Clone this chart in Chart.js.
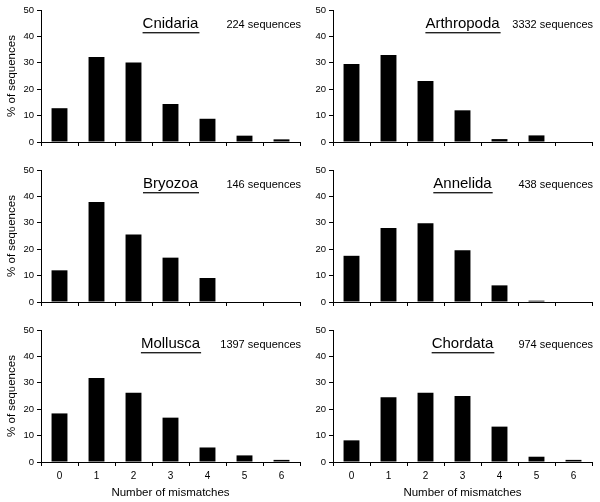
<!DOCTYPE html>
<html>
<head>
<meta charset="utf-8">
<script src="https://cdn.jsdelivr.net/npm/chart.js@4"></script>
<style>
  body { margin: 0; background: #fff; }
  canvas { position: absolute; }
</style>
</head>
<body>
<canvas id="p0" width="302" height="160" style="left:0;top:0"></canvas>
<canvas id="p1" width="302" height="160" style="left:292px;top:0"></canvas>
<canvas id="p2" width="302" height="160" style="left:0;top:160px"></canvas>
<canvas id="p3" width="302" height="160" style="left:292px;top:160px"></canvas>
<canvas id="p4" width="302" height="182" style="left:0;top:320px"></canvas>
<canvas id="p5" width="302" height="182" style="left:292px;top:320px"></canvas>
<script>
const mismatches = ["0", "1", "2", "3", "4", "5", "6"];
const taxa = ["Cnidaria", "Arthropoda", "Bryozoa", "Annelida", "Mollusca", "Chordata"];
const sequenceCounts = [224, 3332, 146, 438, 1397, 974];

const cnidaria   = [12.8, 32.2, 30.1, 14.4, 8.8, 2.4, 1.0];
const arthropoda = [29.5, 33.0, 23.1, 12.0, 1.1, 2.5, 0];
const bryozoa    = [12.0, 37.9, 25.6, 16.8, 9.1, 0, 0];
const annelida   = [17.5, 28.0, 29.8, 19.6, 6.3, 0.5, 0];
const mollusca   = [18.4, 31.8, 26.2, 16.8, 5.5, 2.5, 0.8];
const chordata   = [8.2, 24.5, 26.2, 25.0, 13.4, 2.0, 0.8];

const yMax = 50;
const yStep = 10;

const panels = [cnidaria, arthropoda, bryozoa, annelida, mollusca, chordata];

const FONT = '"Liberation Sans", Arial, sans-serif';

// taxon name (underlined) + number of sequences
const panelLabels = {
  id: "panelLabels",
  afterDraw(chart, args, opts) {
    const { ctx, chartArea: a } = chart;
    ctx.save();
    ctx.fillStyle = "#000";
    ctx.textBaseline = "alphabetic";
    ctx.font = "15px " + FONT;
    const w = ctx.measureText(opts.name).width;
    const x0 = (a.left + a.right) / 2 - w / 2;
    ctx.textAlign = "left";
    ctx.fillText(opts.name, x0, a.top + 18);
    ctx.fillStyle = "#222";
    ctx.fillRect(x0, a.top + 22, w + 1, 1.4);
    ctx.fillStyle = "#000";
    ctx.font = "11px " + FONT;
    ctx.textAlign = "right";
    ctx.fillText(opts.count + " sequences", a.right + 1, a.top + 18);
    ctx.restore();
  }
};

panels.forEach((values, i) => {
  const leftCol = i % 2 === 0;
  const bottomRow = i >= 4;
  const canvasH = bottomRow ? 182 : 160;

  new Chart(document.getElementById("p" + i).getContext("2d"), {
    type: "bar",
    data: {
      labels: mismatches,
      datasets: [{
        data: values,
        backgroundColor: "#000",
        borderWidth: 0,
        barPercentage: 0.43,
        categoryPercentage: 1
      }]
    },
    options: {
      responsive: false,
      animation: false,
      layout: { padding: { top: 10, right: 2, left: 0, bottom: 0 } },
      plugins: {
        legend: { display: false },
        tooltip: { enabled: false },
        panelLabels: { name: taxa[i], count: sequenceCounts[i] }
      },
      scales: {
        x: {
          grid: { drawOnChartArea: false, drawTicks: true, tickLength: 4, color: "#000", offset: true },
          border: { display: true, color: "#000", width: 1 },
          ticks: { display: bottomRow, color: "#000", padding: 4, font: { family: FONT, size: 10 } },
          title: {
            display: bottomRow,
            text: "Number of mismatches",
            color: "#000",
            padding: { top: 0, bottom: 2 },
            font: { family: FONT, size: 11.5 }
          },
          afterFit: s => { s.height = canvasH - 142; }
        },
        y: {
          min: 0,
          max: yMax,
          grid: { drawOnChartArea: false, drawTicks: true, tickLength: 4, color: "#000" },
          border: { display: true, color: "#000", width: 1 },
          ticks: { stepSize: yStep, color: "#000", padding: 3, font: { family: FONT, size: 9.5 } },
          title: {
            display: leftCol,
            text: "% of sequences",
            color: "#000",
            padding: { top: 5, bottom: 0 },
            font: { family: FONT, size: 11.5 }
          },
          afterFit: s => { s.width = 41; }
        }
      }
    },
    plugins: [panelLabels]
  });
});
</script>
</body>
</html>
